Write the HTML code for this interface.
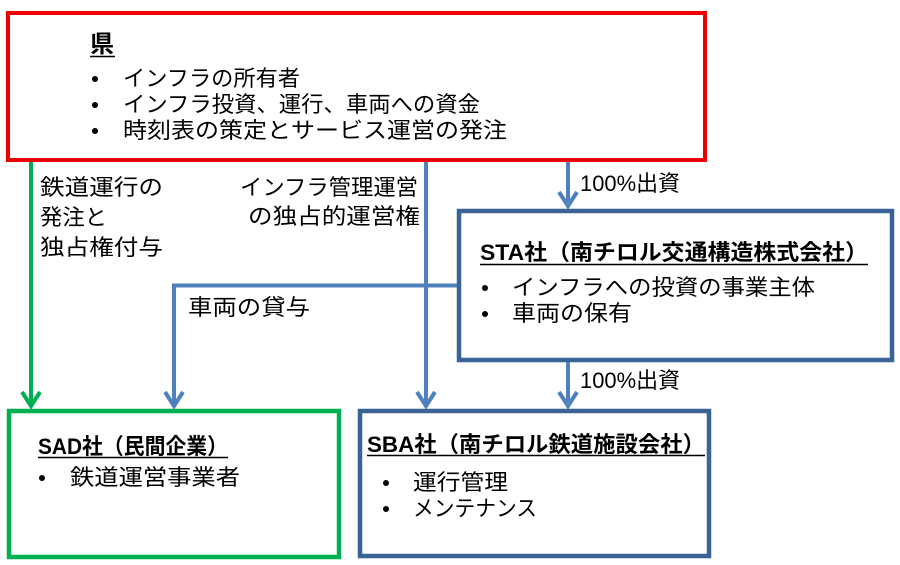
<!DOCTYPE html>
<html><head><meta charset="utf-8"><style>
html,body{margin:0;padding:0;background:#fff;}
svg{display:block;}
text{font-family:"Liberation Sans","Noto Sans CJK JP",sans-serif;fill:#000;}
.t{font-size:22px;}
.b{font-size:22px;font-weight:bold;}
</style></head><body>
<svg width="900" height="565" viewBox="0 0 900 565" xmlns="http://www.w3.org/2000/svg">
<rect x="0" y="0" width="900" height="565" fill="#fff"/>
<!-- connectors -->
<g fill="none" stroke-width="4" stroke-linecap="butt" stroke-linejoin="miter">
  <line x1="31" y1="161" x2="31" y2="407" stroke="#00B050"/>
  <polyline points="22,392 31,406 40,392" stroke="#00B050"/>
  <line x1="426" y1="161" x2="426" y2="407" stroke="#4F81BD"/>
  <polyline points="417,392 426,406 435,392" stroke="#4F81BD"/>
  <line x1="568" y1="161" x2="568" y2="207" stroke="#4F81BD"/>
  <polyline points="559,192 568,206 577,192" stroke="#4F81BD"/>
  <line x1="568" y1="361" x2="568" y2="407" stroke="#4F81BD"/>
  <polyline points="559,392 568,406 577,392" stroke="#4F81BD"/>
  <polyline points="457,285.5 174,285.5 174,407" stroke="#4F81BD"/>
  <polyline points="165,392 174,406 183,392" stroke="#4F81BD"/>
</g>
<!-- boxes -->
<rect x="8" y="13" width="697" height="147" fill="none" stroke="#F00000" stroke-width="4"/>
<rect x="459" y="211" width="433" height="149" fill="#fff" stroke="#3B6496" stroke-width="4.5"/>
<rect x="9" y="411" width="330" height="146" fill="#fff" stroke="#00B050" stroke-width="4.5"/>
<rect x="360" y="411" width="349" height="145" fill="#fff" stroke="#3B6496" stroke-width="4.5"/>

<!-- red box text -->
<text x="90" y="52" style="font-size:24px;font-weight:bold;">県</text>
<line x1="90" y1="56.5" x2="115" y2="56.5" stroke="#000" stroke-width="1.5"/>
<circle cx="95" cy="79" r="3"/>
<circle cx="95" cy="105" r="3"/>
<circle cx="95" cy="131" r="3"/>
<text class="t" x="123" y="86" textLength="177" lengthAdjust="spacingAndGlyphs">インフラの所有者</text>
<text class="t" x="123" y="112" textLength="357" lengthAdjust="spacingAndGlyphs">インフラ投資、運行、車両への資金</text>
<text class="t" x="123" y="138" textLength="384" lengthAdjust="spacingAndGlyphs">時刻表の策定とサービス運営の発注</text>

<!-- connector labels -->
<text class="t" x="40" y="195" textLength="123" lengthAdjust="spacingAndGlyphs">鉄道運行の</text>
<text class="t" x="40" y="225" textLength="67" lengthAdjust="spacingAndGlyphs">発注と</text>
<text class="t" x="40" y="255" textLength="123" lengthAdjust="spacingAndGlyphs">独占権付与</text>
<text class="t" x="240" y="195" textLength="178" lengthAdjust="spacingAndGlyphs">インフラ管理運営</text>
<text class="t" x="248" y="224" textLength="172" lengthAdjust="spacingAndGlyphs">の独占的運営権</text>
<text class="t" x="188" y="315" textLength="122" lengthAdjust="spacingAndGlyphs">車両の貸与</text>
<text class="t" x="580" y="191" textLength="100" lengthAdjust="spacingAndGlyphs">100%出資</text>
<text class="t" x="580" y="388" textLength="100" lengthAdjust="spacingAndGlyphs">100%出資</text>

<!-- STA -->
<text class="b" x="480" y="260" textLength="388" lengthAdjust="spacingAndGlyphs">STA社（南チロル交通構造株式会社）</text>
<line x1="480" y1="264.5" x2="868" y2="264.5" stroke="#000" stroke-width="1.5"/>
<circle cx="485" cy="288" r="3"/>
<circle cx="485" cy="314" r="3"/>
<text class="t" x="512" y="295" textLength="303" lengthAdjust="spacingAndGlyphs">インフラへの投資の事業主体</text>
<text class="t" x="512" y="321" textLength="120" lengthAdjust="spacingAndGlyphs">車両の保有</text>

<!-- SAD -->
<text class="b" x="38" y="454" textLength="190" lengthAdjust="spacingAndGlyphs">SAD社（民間企業）</text>
<line x1="38" y1="457.5" x2="228" y2="457.5" stroke="#000" stroke-width="1.5"/>
<circle cx="42" cy="478" r="3"/>
<text class="t" x="70" y="485" textLength="170" lengthAdjust="spacingAndGlyphs">鉄道運営事業者</text>

<!-- SBA -->
<text class="b" x="367" y="452" textLength="338" lengthAdjust="spacingAndGlyphs">SBA社（南チロル鉄道施設会社）</text>
<line x1="367" y1="455.5" x2="705" y2="455.5" stroke="#000" stroke-width="1.5"/>
<circle cx="386" cy="483" r="3"/>
<circle cx="386" cy="509" r="3"/>
<text class="t" x="413" y="490" textLength="95" lengthAdjust="spacingAndGlyphs">運行管理</text>
<text class="t" x="413" y="516" textLength="124" lengthAdjust="spacingAndGlyphs">メンテナンス</text>
</svg>
</body></html>
